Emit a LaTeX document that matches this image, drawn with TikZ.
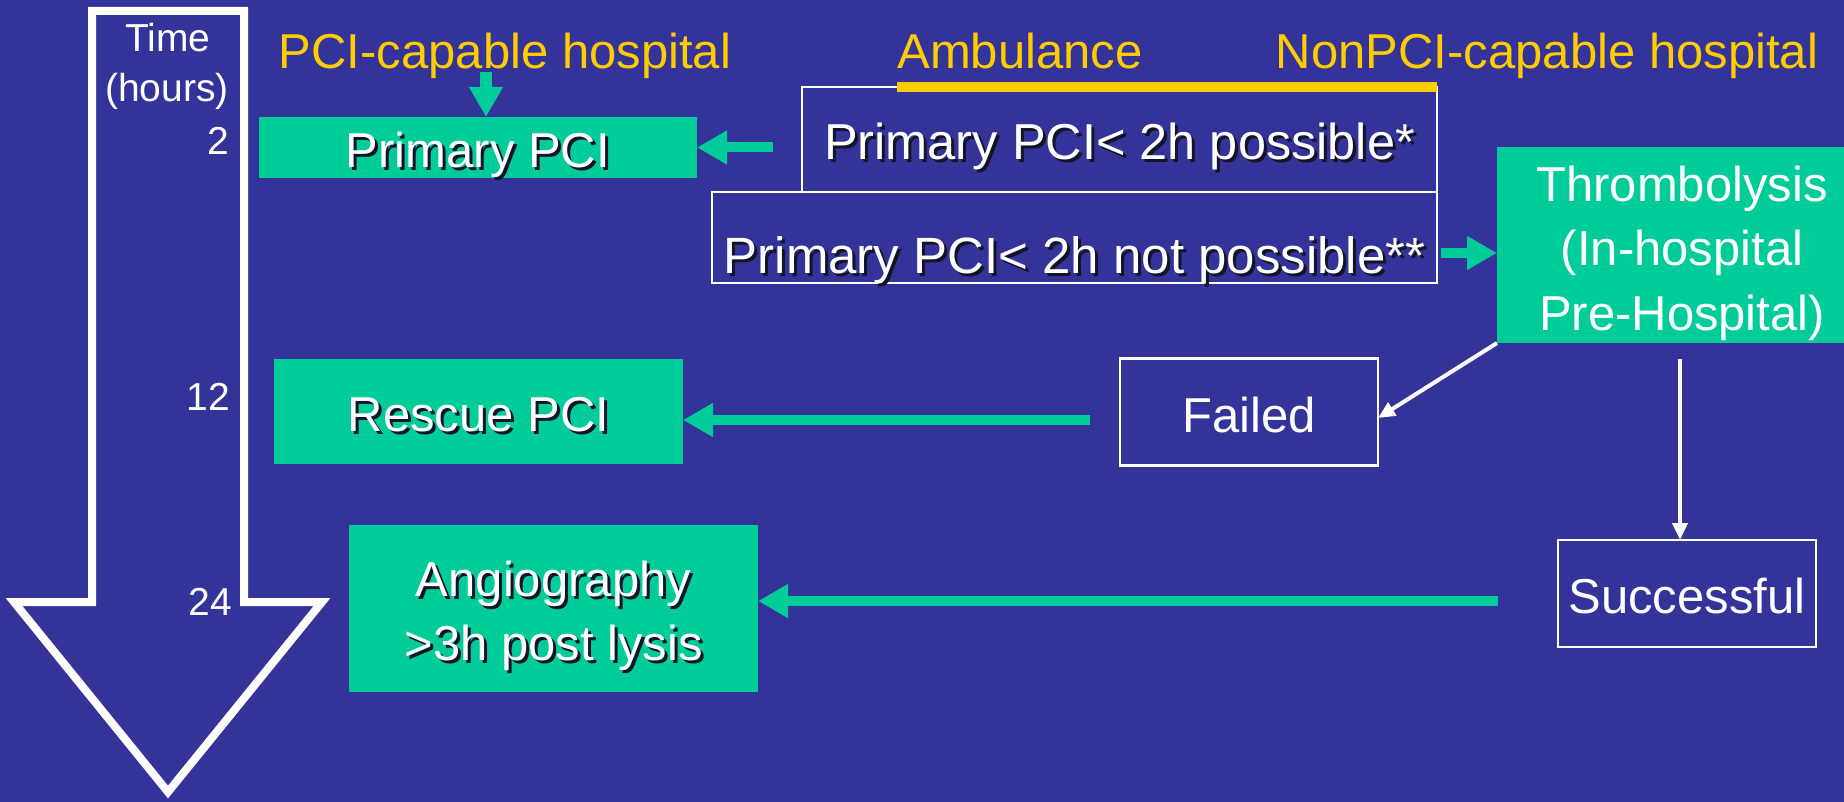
\documentclass[tikz,border=0pt]{standalone}
\usepackage{fontspec}
\setmainfont{Liberation Sans}
\usetikzlibrary{arrows.meta,positioning}

\definecolor{slideblue}{RGB}{51,51,153}
\definecolor{boxgreen}{RGB}{0,204,153}
\definecolor{labelyellow}{RGB}{255,204,0}
\definecolor{textshadow}{RGB}{20,20,40}

% white text with a dark drop shadow
\newcommand\shtext[1]{\leavevmode\rlap{\raisebox{-3pt}[0pt][0pt]{\hspace*{3pt}\textcolor{textshadow}{#1}}}#1}

\begin{document}
\begin{tikzpicture}[
  x=1pt, y=-1pt,
  every node/.style={text=white, font=\fontsize{49}{64}\selectfont},
  greenbox/.style={fill=boxgreen, inner sep=0pt, outer sep=0pt, align=center},
  whitebox/.style={draw=white, line width=2.5pt, inner sep=0pt, outer sep=0pt, align=center},
  oneline/.style={text height=40pt, text depth=0pt},
  timelabel/.style={anchor=base, inner sep=0pt, font=\fontsize{39}{45}\selectfont},
  hourmark/.style={timelabel, anchor=base east},
  site/.style={anchor=base, inner sep=0pt, text=labelyellow},
  gline/.style={draw=boxgreen, line width=10pt, -{Triangle[length=30pt,width=32pt]}},
  wline/.style={draw=white, line width=4pt, -{Triangle[length=17pt,width=15pt]}}
]
  \fill[slideblue] (0,0) rectangle (1844,802);
  \useasboundingbox (0,0) rectangle (1844,802);

  % hollow time arrow
  \draw[white, line width=8pt] (92,11) -- (244,11) -- (244,602) -- (322,602)
    -- (168,792) -- (14,602) -- (92,602) -- cycle;
  \node[timelabel] (time) at (168,52) {Time};
  \node[timelabel] (hours) at (167,102) {(hours)};
  \node[hourmark] (h2) at (229,155) {2};
  \node[hourmark] (h12) at (230,410) {12};
  \node[hourmark] (h24) at (232,615) {24};

  \node[site] (pcisite) at (505,69) {PCI-capable hospital};
  \node[site] (ambulance) at (1020,69) {Ambulance};
  \node[site] (nonpcisite) at (1547,69) {NonPCI-capable hospital};

  \node[greenbox, oneline, minimum width=438pt, minimum height=61pt] (primary) at (478,147.5) {\shtext{Primary PCI}};
  \node[whitebox, oneline, minimum width=635pt, minimum height=105pt, font=\fontsize{50.5}{60}\selectfont]
    (possible) at (1119.5,139.5) {\shtext{Primary PCI< 2h possible*}};
  \node[whitebox, minimum width=725pt, minimum height=91pt, text height=71pt, text depth=0pt, font=\fontsize{51}{60}\selectfont]
    (notpossible) at (1074.5,237.5) {\shtext{Primary PCI< 2h not possible**}};
  \draw[labelyellow, line width=10pt] (ambulance.west |- possible.north) -- (possible.north east);

  \node[greenbox, minimum width=370pt, minimum height=196pt, text height=170pt, text depth=0pt] (thrombo) at (1682,245)
    {Thrombolysis\\(In-hospital\\Pre-Hospital)};
  \node[whitebox, oneline, minimum width=258pt, minimum height=107pt] (failed) at (1249,412) {Failed};
  \node[whitebox, oneline, minimum width=258pt, minimum height=107pt] (success) at (1687,593.5) {Successful};

  \node[greenbox, oneline, minimum width=409pt, minimum height=105pt] (rescue) at (478.5,411.5) {\shtext{Rescue PCI}};
  \node[greenbox, minimum width=409pt, minimum height=167pt, text height=103pt, text depth=0pt] (angio) at (553.5,608.5)
    {\shtext{Angiography}\\\shtext{>3h post lysis}};

  % connectors
  \coordinate (pcitail) at (486,72);
  \draw[gline, line width=12pt] (pcitail) -- (pcitail |- primary.north);
  \draw[gline, shorten <=29pt] (possible.west |- primary.east) -- (primary.east);

  \coordinate (thromboin) at ([yshift=-8pt]thrombo.west);
  \draw[gline, shorten <=4pt] (notpossible.east |- thromboin) -- (thromboin);

  \draw[wline] (thrombo.south west) -- ([yshift=-6pt]failed.east);
  \coordinate (succtop) at ([xshift=-7pt]success.north);
  \draw[wline, shorten <=16pt] (succtop |- thrombo.south) -- (succtop);

  \coordinate (failout) at ([yshift=-8pt]failed.west);
  \draw[gline, shorten <=30pt] (failout) -- (failout -| rescue.east);
  \coordinate (succout) at ([yshift=-7.5pt]success.west);
  \draw[gline, shorten <=60pt] (succout) -- (succout -| angio.east);
\end{tikzpicture}
\end{document}
